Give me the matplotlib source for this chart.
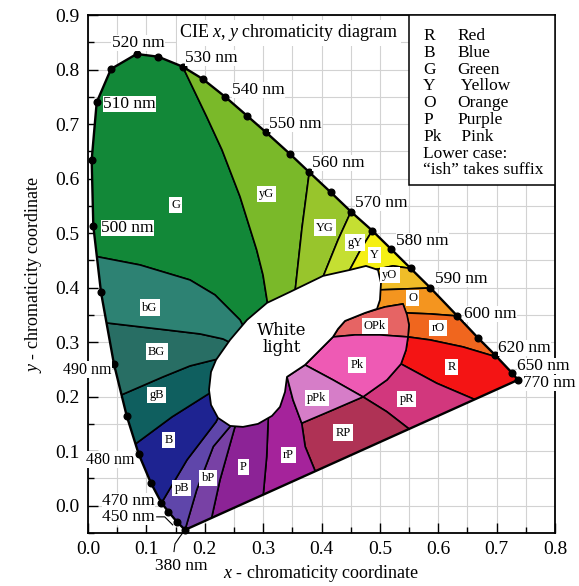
import matplotlib
matplotlib.use('Agg')
import matplotlib.pyplot as plt
from matplotlib.patches import Polygon, Rectangle
from matplotlib.ticker import MultipleLocator
import numpy as np

plt.rcParams['font.family'] = ['Liberation Serif', 'DejaVu Serif']
plt.rcParams['mathtext.fontset'] = 'custom'
plt.rcParams['mathtext.rm'] = 'Liberation Serif'
plt.rcParams['mathtext.it'] = 'Liberation Serif:italic'

# ---------------- data ----------------
locus_nm = [380, 450, 460, 470, 475, 480, 485, 490, 495, 500, 505, 510, 515, 520, 525,
            530, 535, 540, 545, 550, 555, 560, 565, 570, 575, 580, 585, 590, 600, 610,
            620, 650, 770]
locus_x = [0.1662, 0.1519, 0.1376, 0.1259, 0.1079, 0.0869, 0.0663, 0.0445, 0.0223, 0.0091,
           0.0063, 0.0149, 0.0394, 0.0834, 0.1204, 0.1622, 0.1965, 0.2347, 0.2729, 0.3049,
           0.3460, 0.3791, 0.4158, 0.4505, 0.4870, 0.5199, 0.5528, 0.5867, 0.6326, 0.6686,
           0.6972, 0.7258, 0.7366]
locus_y = [-0.0443, -0.0290, -0.0107, 0.0052, 0.0414, 0.0946, 0.1648, 0.2596, 0.3912, 0.5131,
           0.6341, 0.7399, 0.8010, 0.8285, 0.8235, 0.8052, 0.7827, 0.7502, 0.7148, 0.6849,
           0.6451, 0.6116, 0.5749, 0.5393, 0.5045, 0.4700, 0.4352, 0.3994, 0.3481, 0.3072,
           0.2766, 0.2442, 0.2308]

region_G = [(-0.0137, 0.4600), (-0.0137, 0.8542), (0.0720, 0.8633), (0.1525, 0.8267), (0.1622, 0.8052),
            (0.2033, 0.7135), (0.2296, 0.6525), (0.2604, 0.5669), (0.2890, 0.4691), (0.2998, 0.4233),
            (0.3083, 0.3665), (0.2861, 0.3224), (0.2690, 0.3224), (0.2604, 0.3408), (0.2176, 0.3866),
            (0.1747, 0.4141), (0.0891, 0.4416), (0.0149, 0.4569), (-0.0051, 0.4600)]
region_yG = [(0.1525, 0.8267), (0.2775, 0.8358), (0.3820, 0.6378), (0.3791, 0.6116), (0.3666, 0.5095),
             (0.3546, 0.3921), (0.3375, 0.3775), (0.3083, 0.3665), (0.2998, 0.4233), (0.2890, 0.4691),
             (0.2604, 0.5669), (0.2296, 0.6525), (0.2033, 0.7135), (0.1622, 0.8052)]
region_YG = [(0.3820, 0.6378), (0.4591, 0.5602), (0.4505, 0.5393), (0.4283, 0.4875), (0.3991, 0.4105),
             (0.3632, 0.3866), (0.3546, 0.3921), (0.3666, 0.5095), (0.3791, 0.6116)]
region_gY = [(0.4591, 0.5602), (0.5002, 0.5278), (0.4870, 0.5045), (0.4677, 0.4710), (0.4437, 0.4233),
             (0.4317, 0.4050), (0.3991, 0.4105), (0.4283, 0.4875), (0.4505, 0.5393)]
region_Y = [(0.5002, 0.5278), (0.5773, 0.4325), (0.5528, 0.4352), (0.5225, 0.4398), (0.4900, 0.4325),
            (0.4660, 0.4233), (0.4437, 0.4233), (0.4677, 0.4710), (0.4870, 0.5045)]
region_yO = [(0.5773, 0.4325), (0.6116, 0.4013), (0.5867, 0.3994), (0.5430, 0.3976), (0.4968, 0.3958),
             (0.4745, 0.3958), (0.4745, 0.4325), (0.4900, 0.4325), (0.5225, 0.4398), (0.5528, 0.4352)]
region_O = [(0.6116, 0.4013), (0.6629, 0.3463), (0.6321, 0.3481), (0.5859, 0.3518), (0.5448, 0.3536),
            (0.5396, 0.3701), (0.5088, 0.3646), (0.4745, 0.3536), (0.4745, 0.3866), (0.4968, 0.3958),
            (0.5430, 0.3976), (0.5867, 0.3994)]
region_rO = [(0.5448, 0.3536), (0.5859, 0.3518), (0.6321, 0.3481), (0.6629, 0.3463), (0.7315, 0.3041),
             (0.7452, 0.2583), (0.6938, 0.2748), (0.6424, 0.2913), (0.5859, 0.3041), (0.5482, 0.3096),
             (0.5499, 0.3316)]
region_R = [(0.5362, 0.2601), (0.5448, 0.2858), (0.5482, 0.3096), (0.5859, 0.3041), (0.6424, 0.2913),
            (0.6938, 0.2748), (0.7452, 0.2583), (0.7742, 0.2216), (0.6887, 0.1831), (0.6573, 0.1972),
            (0.5973, 0.2247)]
region_pR = [(0.4711, 0.1996), (0.5122, 0.2308), (0.5362, 0.2601), (0.5973, 0.2247), (0.6573, 0.1972),
             (0.6887, 0.1831), (0.5773, 0.1189), (0.5487, 0.1420), (0.5117, 0.1726)]
region_RP = [(0.3661, 0.1514), (0.4197, 0.1758), (0.4711, 0.1996), (0.5117, 0.1726), (0.5487, 0.1420),
             (0.5773, 0.1189), (0.3940, 0.0437), (0.3889, 0.0643), (0.3720, 0.1085)]
region_rP = [(0.2998, 0.0016), (0.3003, 0.0210), (0.3061, 0.0901), (0.3089, 0.1632), (0.3101, 0.1758),
             (0.3289, 0.1978), (0.3409, 0.2363), (0.3512, 0.1941), (0.3661, 0.1514), (0.3720, 0.1085),
             (0.3889, 0.0643), (0.3940, 0.0437)]
region_P = [(0.2073, -0.0443), (0.2119, -0.0213), (0.2261, 0.0474), (0.2518, 0.1451), (0.2553, 0.1611),
            (0.3101, 0.1758), (0.3089, 0.1632), (0.3061, 0.0901), (0.3003, 0.0210), (0.2998, 0.0016)]
region_bP = [(0.1627, -0.0626), (0.1662, -0.0443), (0.1862, 0.0291), (0.2146, 0.1085), (0.2433, 0.1451),
             (0.2501, 0.1648), (0.2553, 0.1611), (0.2518, 0.1451), (0.2261, 0.0474), (0.2119, -0.0213),
             (0.2073, -0.0443)]
region_pB = [(0.1062, 0.0016), (0.1259, 0.0052), (0.1696, 0.0841), (0.2193, 0.1538), (0.2278, 0.1721),
             (0.2501, 0.1648), (0.2433, 0.1451), (0.2146, 0.1085), (0.1862, 0.0291), (0.1662, -0.0443),
             (0.1627, -0.0626), (0.1062, -0.0626)]
region_B = [(0.0582, 0.1024), (0.0814, 0.1134), (0.1439, 0.1629), (0.2090, 0.2069), (0.2261, 0.2161),
            (0.2278, 0.1721), (0.2193, 0.1538), (0.1696, 0.0841), (0.1259, 0.0052), (0.1062, 0.0016)]
region_gB = [(0.0343, 0.1941), (0.0574, 0.2033), (0.1285, 0.2363), (0.1747, 0.2564), (0.2158, 0.2674),
             (0.2330, 0.2711), (0.2261, 0.2161), (0.2090, 0.2069), (0.1439, 0.1629), (0.0814, 0.1134),
             (0.0582, 0.1024)]
region_BG = [(0.0120, 0.3353), (0.0317, 0.3353), (0.1348, 0.3224), (0.1919, 0.3151), (0.2313, 0.3059),
             (0.2518, 0.2949), (0.2330, 0.2711), (0.2158, 0.2674), (0.1747, 0.2564), (0.1285, 0.2363),
             (0.0574, 0.2033), (0.0343, 0.1941)]
region_bG = [(-0.0051, 0.4600), (0.0149, 0.4569), (0.0891, 0.4416), (0.1747, 0.4141), (0.2176, 0.3866),
             (0.2604, 0.3408), (0.2690, 0.3224), (0.2518, 0.2949), (0.2313, 0.3059), (0.1919, 0.3151),
             (0.1348, 0.3224), (0.0317, 0.3353), (0.0120, 0.3353)]
region_OPk = [(0.4403, 0.3389), (0.4745, 0.3536), (0.5088, 0.3646), (0.5396, 0.3701), (0.5465, 0.3500),
              (0.5499, 0.3316), (0.5482, 0.3096), (0.5002, 0.3133), (0.4574, 0.3133), (0.4197, 0.3096),
              (0.4283, 0.3243)]
region_Pk = [(0.4197, 0.3096), (0.4574, 0.3133), (0.5002, 0.3133), (0.5482, 0.3096), (0.5448, 0.2858),
             (0.5362, 0.2601), (0.5122, 0.2308), (0.4711, 0.1996), (0.4197, 0.2308), (0.3718, 0.2583),
             (0.3975, 0.2858)]
region_pPk = [(0.3409, 0.2363), (0.3718, 0.2583), (0.4197, 0.2308), (0.4711, 0.1996), (0.4197, 0.1758),
              (0.3661, 0.1514), (0.3512, 0.1941)]
white_region = [(0.4968, 0.4325), (0.5019, 0.4086), (0.5002, 0.3775), (0.4951, 0.3610), (0.4745, 0.3536),
                (0.4403, 0.3389), (0.4283, 0.3243), (0.4197, 0.3096), (0.3975, 0.2858), (0.3718, 0.2583),
                (0.3409, 0.2363), (0.3375, 0.2088), (0.3289, 0.1813), (0.3152, 0.1648), (0.2912, 0.1501),
                (0.2655, 0.1446), (0.2433, 0.1464), (0.2227, 0.1611), (0.2107, 0.1849), (0.2073, 0.2124),
                (0.2107, 0.2454), (0.2193, 0.2674), (0.2433, 0.3041), (0.2724, 0.3408), (0.3066, 0.3720),
                (0.3460, 0.3921), (0.4026, 0.4215), (0.4488, 0.4325), (0.4762, 0.4398)]

ring_names = ["G", "yG", "YG", "gY", "Y", "yO", "O", "rO", "R", "pR", "RP", "rP", "P", "bP", "pB",
              "B", "gB", "BG", "bG"]
ring_polys = [region_G, region_yG, region_YG, region_gY, region_Y, region_yO, region_O, region_rO,
              region_R, region_pR, region_RP, region_rP, region_P, region_bP, region_pB, region_B,
              region_gB, region_BG, region_bG]
ring_colors = ['#128838', '#7ab929', '#98c52c', '#c5df32', '#f5ef14', '#f0bd28', '#f4951f', '#f0661e',
               '#f41414', '#d2377d', '#af3255', '#a5239b', '#8c2396', '#7841a5', '#5f46aa', '#1e2391',
               '#0f5f5f', '#286e64', '#2d8273']
inner_polys = [region_OPk, region_Pk, region_pPk]
inner_colors = ['#e66464', '#ee5ab4', '#d67dc8']

label_names = ["G", "yG", "YG", "gY", "Y", "yO", "O", "rO", "OPk", "Pk", "R", "pR", "pPk", "RP", "rP",
               "P", "bP", "pB", "B", "gB", "BG", "bG"]
label_x = [0.1502, 0.3061, 0.4060, 0.4574, 0.4904, 0.5173, 0.5562, 0.6001, 0.4916, 0.4613, 0.6230,
           0.5460, 0.3918, 0.4373, 0.3431, 0.2660, 0.2061, 0.1605, 0.1376, 0.1182, 0.1177, 0.1062]
label_y = [0.5516, 0.5713, 0.5100, 0.4825, 0.4600, 0.4233, 0.3806, 0.3256, 0.3298, 0.2583, 0.2541,
           0.1954, 0.1972, 0.1342, 0.0933, 0.0707, 0.0505, 0.0322, 0.1208, 0.2033, 0.2827, 0.3633]

nm_text = ["520 nm", "530 nm", "540 nm", "550 nm", "560 nm", "570 nm", "580 nm", "590 nm", "600 nm",
           "620 nm", "650 nm", "770 nm", "510 nm", "500 nm", "490 nm", "480 nm", "470 nm", "450 nm",
           "380 nm"]
nm_x = [0.0857, 0.1662, 0.2467, 0.3101, 0.3837, 0.4574, 0.5276, 0.5944, 0.6441, 0.7024, 0.7349,
        0.7452, 0.0257, 0.0223, 0.0411, -0.0034, 0.0240, 0.0240, 0.1593]
nm_y = [0.8487, 0.8212, 0.7625, 0.7001, 0.6286, 0.5553, 0.4856, 0.4160, 0.3518, 0.2894, 0.2564,
        0.2253, 0.7368, 0.5095, 0.2491, 0.0841, 0.0089, -0.0204, -0.1110]
nm_ha = ['center'] + ['left'] * 13 + ['right', 'left', 'left', 'left', 'center']
nm_size = [12.5] * 14 + [11.5, 11.5, 12.5, 12.5, 12.5]

leader_450_x = [0.1177, 0.1314, 0.1451]
leader_450_y = [-0.0204, -0.0204, -0.0351]
leader_380_x = [0.1662, 0.1576, 0.1490, 0.1473]
leader_380_y = [-0.0443, -0.0566, -0.0700, -0.0840]

legend_codes = ["R", "B", "G", "Y", "O", "P", "Pk"]
legend_names = ["Red", "Blue", "Green", " Yellow", "Orange", "Purple", " Pink"]

# ---------------- figure ----------------
fig = plt.figure(figsize=(5.79, 5.86), dpi=100)
ax = fig.add_axes([88 / 579, 1 - 533 / 586, 467 / 579, 518 / 586])
ax.set_xlim(0, 0.8)
ax.set_ylim(-0.05, 0.9)
ax.set_axisbelow(True)
ax.xaxis.set_minor_locator(MultipleLocator(0.05))
ax.yaxis.set_minor_locator(MultipleLocator(0.05))
ax.set_xticks(np.arange(0, 0.81, 0.1))
ax.set_xticklabels([f"{v:.1f}" for v in np.arange(0, 0.81, 0.1)])
ax.set_yticks(np.arange(0, 0.91, 0.1))
ax.set_yticklabels([f"{v:.1f}" for v in np.arange(0, 0.91, 0.1)])
ax.grid(True, which='both', color='#d2d2d2', lw=0.8)
ax.tick_params(which='major', direction='in', length=7, width=1, labelsize=14, pad=6)
ax.tick_params(which='minor', direction='in', length=4, width=1)
for s in ax.spines.values():
    s.set_linewidth(1.3)

locus_patch = Polygon(np.column_stack([locus_x, locus_y]), closed=True, facecolor='none',
                      edgecolor='none', transform=ax.transData)
ax.add_patch(locus_patch)

for poly, col in zip(ring_polys, ring_colors):
    p = Polygon(poly, closed=True, facecolor=col, edgecolor='black', lw=1.2, zorder=2,
                joinstyle='round')
    ax.add_patch(p)
    p.set_clip_path(locus_patch)
for poly, col in zip(inner_polys, inner_colors):
    p = Polygon(poly, closed=True, facecolor=col, edgecolor='black', lw=1.2, zorder=3,
                joinstyle='round')
    ax.add_patch(p)
    p.set_clip_path(locus_patch)
ax.add_patch(Polygon(white_region, closed=True, facecolor='white', edgecolor='black', lw=1.3,
                     zorder=4, joinstyle='round'))

ax.plot(locus_x + [locus_x[0]], locus_y + [locus_y[0]], color='black', lw=1.7, zorder=5,
        clip_on=False, solid_joinstyle='round')
ax.plot(locus_x, locus_y, 'o', color='black', ms=4.8, zorder=6, clip_on=False)

for n, x, y in zip(label_names, label_x, label_y):
    ax.text(x, y, n, ha='center', va='center', fontsize=9, zorder=7,
            bbox=dict(facecolor='white', edgecolor='none', pad=1.6))

ax.text(0.3323, 0.3059, "White\nlight", ha='center', va='center', fontsize=12,
        family='DejaVu Serif', linespacing=1.0, zorder=7)

for t, x, y, ha, fs in zip(nm_text, nm_x, nm_y, nm_ha, nm_size):
    ax.text(x, y, t, ha=ha, va='center', fontsize=fs, zorder=8, clip_on=False,
            bbox=dict(facecolor='white', edgecolor='none', pad=0.3))
ax.plot(leader_450_x, leader_450_y, color='black', lw=0.8, zorder=8)
ax.plot(leader_380_x, leader_380_y, color='black', lw=0.8, zorder=8, clip_on=False)

ax.text(0.3443, 0.867, "CIE $x$, $y$ chromaticity diagram", ha='center', va='center',
        fontsize=13, zorder=8, bbox=dict(facecolor='white', edgecolor='none', pad=2))

# legend box
ax.add_patch(Rectangle((0.55, 0.5883), 0.25, 0.3117, facecolor='white', edgecolor='black',
                       lw=1.1, zorder=8))
row_y0, row_dy = 0.8615, 0.0308
for i, (c, n) in enumerate(zip(legend_codes, legend_names)):
    yy = row_y0 - i * row_dy
    ax.text(0.5739, yy, c, ha='left', va='center', fontsize=12.5, zorder=9)
    ax.text(0.6321, yy, n, ha='left', va='center', fontsize=12.5, zorder=9)
ax.text(0.5739, row_y0 - 7 * row_dy, "Lower case:", ha='left', va='center', fontsize=12.5, zorder=9)
ax.text(0.5739, row_y0 - 8 * row_dy, "\u201cish\u201d takes suffix", ha='left', va='center',
        fontsize=12.5, zorder=9)

ax.set_xlabel("$x$ - chromaticity coordinate", fontsize=13, labelpad=3)
ax.set_ylabel("$y$ - chromaticity coordinate", fontsize=13, labelpad=8)

fig.savefig('out.png', dpi=100)
